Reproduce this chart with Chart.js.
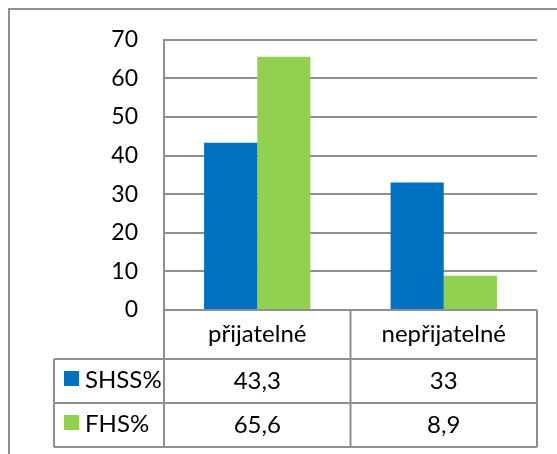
<!DOCTYPE html>
<html>
<head>
<meta charset="utf-8">
<script src="https://cdn.jsdelivr.net/npm/chart.js@4.4.3/dist/chart.umd.min.js"></script>
<style>
    html, body { margin: 0; padding: 0; background: #fff; }
    #wrap { width: 557px; height: 454px; }
</style>
</head>
<body>
<div id="wrap"><canvas id="chart"></canvas></div>
<script>
// data
const categories = ["přijatelné", "nepřijatelné"];
const seriesNames = ["SHSS%", "FHS%"];
const shssValues = [43.3, 33];
const fhsValues = [65.6, 8.9];
const yTicks = [0, 10, 20, 30, 40, 50, 60, 70];

const BLUE = "#0070C0";
const GREEN = "#92D050";
const LINE = "#8f8f8f";
const FONT = "Lato, 'Open Sans', sans-serif";

// frame + data table under the plot
const dataTablePlugin = {
    id: "dataTable",
    afterDraw(chart) {
        const ctx = chart.ctx;
        const area = chart.chartArea;
        const x = chart.scales.x;
        const rows = [area.bottom, area.bottom + 49, area.bottom + 93, area.bottom + 137];
        const legendLeft = 54;
        const cols = [area.left];
        for (let i = 1; i < categories.length; i++) {
            cols.push((x.getPixelForValue(i - 1) + x.getPixelForValue(i)) / 2);
        }
        cols.push(area.right);

        ctx.save();
        ctx.strokeStyle = LINE;
        ctx.lineWidth = 2;

        // outer frame (left and top only, the rest is cut off)
        ctx.beginPath();
        ctx.moveTo(9, chart.height);
        ctx.lineTo(9, 9);
        ctx.lineTo(chart.width, 9);
        ctx.stroke();

        // horizontal lines
        ctx.beginPath();
        ctx.moveTo(area.left, rows[0]);
        ctx.lineTo(area.right, rows[0]);
        for (let r = 1; r < rows.length; r++) {
            ctx.moveTo(legendLeft, rows[r]);
            ctx.lineTo(area.right, rows[r]);
        }
        // vertical lines
        ctx.moveTo(legendLeft, rows[1]);
        ctx.lineTo(legendLeft, rows[3]);
        cols.forEach(c => {
            ctx.moveTo(c, rows[0]);
            ctx.lineTo(c, rows[3]);
        });
        ctx.stroke();

        // text
        ctx.fillStyle = "#000";
        ctx.font = "24px " + FONT;
        ctx.textBaseline = "middle";
        ctx.textAlign = "center";
        categories.forEach((cat, i) => {
            ctx.fillText(cat, x.getPixelForValue(i), (rows[0] + rows[1]) / 2);
        });

        const series = [shssValues, fhsValues];
        const colors = [BLUE, GREEN];
        series.forEach((vals, s) => {
            const cy = (rows[s + 1] + rows[s + 2]) / 2;
            ctx.fillStyle = colors[s];
            ctx.fillRect(64, cy - 10, 15, 15);
            ctx.fillStyle = "#000";
            ctx.textAlign = "left";
            ctx.fillText(seriesNames[s], 85, cy - 1);
            ctx.textAlign = "center";
            vals.forEach((v, i) => {
                ctx.fillText(String(v).replace(".", ","), x.getPixelForValue(i), cy);
            });
        });
        ctx.restore();
    }
};

new Chart(document.getElementById("chart"), {
    type: "bar",
    data: {
        labels: categories,
        datasets: [
            { label: seriesNames[0], data: shssValues, backgroundColor: BLUE },
            { label: seriesNames[1], data: fhsValues, backgroundColor: GREEN }
        ]
    },
    options: {
        responsive: true,
        maintainAspectRatio: false,
        animation: false,
        events: [],
        layout: { padding: { left: 0, top: 37, right: 20, bottom: 144 } },
        plugins: {
            legend: { display: false },
            tooltip: { enabled: false }
        },
        datasets: {
            bar: { categoryPercentage: 0.57, barPercentage: 1 }
        },
        scales: {
            x: { display: false },
            y: {
                min: 0,
                max: 70,
                afterBuildTicks: scale => {
                    scale.ticks = yTicks.map(v => ({ value: v }));
                },
                afterFit: scale => { scale.width = 164; },
                grid: { color: LINE, lineWidth: 2, drawTicks: false },
                border: { color: LINE, width: 2 },
                ticks: {
                    color: "#000",
                    padding: 26,
                    font: { family: FONT, size: 23 }
                }
            }
        }
    },
    plugins: [dataTablePlugin]
});
</script>
</body>
</html>
